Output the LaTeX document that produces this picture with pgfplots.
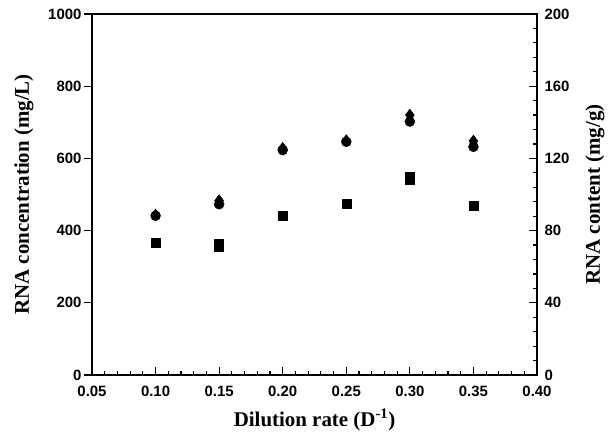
\documentclass[border=0pt]{standalone}
\usepackage{pgfplots}
\pgfplotsset{compat=1.18}
\usepackage{fontspec}
\setmainfont{Liberation Serif}
\setsansfont{Liberation Sans}
\usetikzlibrary{calc}

\newcommand{\tickfont}{\fontsize{15}{15}\selectfont\sffamily\bfseries}
\newcommand{\labfont}{\fontsize{21}{21}\selectfont\rmfamily\bfseries}

\pgfplotsset{
  common/.style={
    scale only axis, width=445bp, height=361bp,
    xmin=0.05, xmax=0.40,
    tick align=inside,
    major tick length=8bp, minor tick length=4bp,
    every tick/.style={black, line width=1.2bp},
    axis line style={line width=1.4bp},
    ticklabel style={font=\tickfont},
    /pgf/number format/assume math mode=true,
    /pgf/number format/1000 sep={},
    label style={font=\labfont},
  },
}

\begin{document}
\begin{tikzpicture}
\begin{axis}[common,
  ymin=0, ymax=1000,
  xtick={0.05,0.10,...,0.40},
  minor x tick num=4,
  xticklabel style={yshift=-8bp, /pgf/number format/.cd, fixed, fixed zerofill, precision=2},
  yticklabel style={xshift=-7bp},
  xtick pos=bottom, ytick pos=left,
  ytick={0,200,...,1000},
  ytick style={xshift=-8bp},
  xlabel={Dilution rate (D\textsuperscript{-1})},
  xlabel style={at={(axis description cs:0.5,-0.125)}, anchor=center},
  ylabel={RNA concentration (mg/L)},
  ylabel style={at={(axis description cs:-0.153,0.5)}, anchor=center},
]
  % circles
  \addplot[only marks, mark=*, mark size=5bp, black]
    coordinates {(0.10,441) (0.15,473) (0.20,623) (0.25,646) (0.30,702) (0.35,632)};
  % squares
  \addplot[only marks, mark=square*, mark size=4.5bp, black]
    coordinates {(0.10,367) (0.15,355) (0.15,365) (0.20,440) (0.25,474)
                 (0.30,540) (0.30,550) (0.35,468)};
\end{axis}

\begin{axis}[common,
  ymin=0, ymax=200,
  axis x line=none,
  axis y line*=right,
  ytick={0,40,...,200},
  minor y tick num=4,
  yticklabel style={xshift=4bp},
  ylabel={RNA content (mg/g)},
  ylabel style={at={(axis description cs:1.13,0.5)}, anchor=center, rotate=0},
]
  % diamonds
  \addplot[only marks, mark=diamond*, mark size=6bp, black]
    coordinates {(0.10,88.6) (0.15,96.6) (0.20,125.6) (0.25,129.8) (0.30,144.0) (0.35,129.6)};
\end{axis}

\pgfresetboundingbox
\path ($(current axis.south west)+(-92bp,-64bp)$) rectangle ($(current axis.north east)+(74bp,14bp)$);
\end{tikzpicture}
\end{document}
